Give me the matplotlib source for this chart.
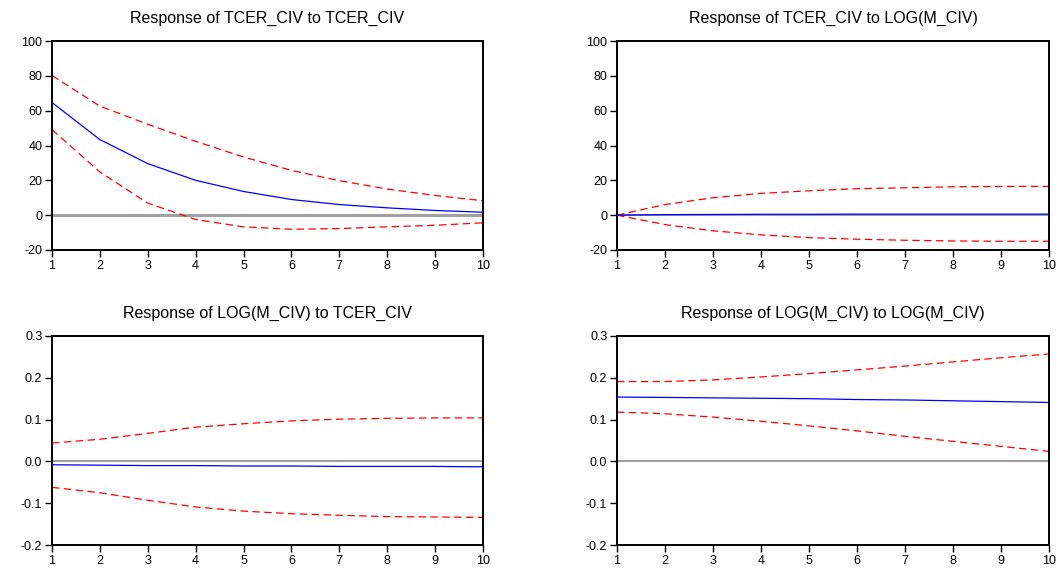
import matplotlib
matplotlib.use("Agg")
import matplotlib.pyplot as plt

periods = [1, 2, 3, 4, 5, 6, 7, 8, 9, 10]

titles = [
    "Response of TCER_CIV to TCER_CIV",
    "Response of TCER_CIV to LOG(M_CIV)",
    "Response of LOG(M_CIV) to TCER_CIV",
    "Response of LOG(M_CIV) to LOG(M_CIV)",
]

# Panel 1: TCER_CIV to TCER_CIV
resp_11 = [64.7, 43.4, 29.6, 20.0, 13.6, 9.0, 6.1, 4.2, 2.7, 1.7]
upper_11 = [80.2, 62.6, 52.2, 42.4, 33.4, 25.7, 19.8, 15.0, 11.3, 8.3]
lower_11 = [49.1, 24.8, 6.9, -2.5, -6.7, -8.1, -7.7, -6.7, -5.8, -4.4]

# Panel 2: TCER_CIV to LOG(M_CIV)
resp_12 = [0.0, 0.3, 0.4, 0.5, 0.5, 0.6, 0.6, 0.6, 0.6, 0.6]
upper_12 = [0.0, 6.1, 10.0, 12.5, 14.0, 15.2, 15.7, 16.3, 16.5, 16.5]
lower_12 = [0.0, -5.4, -9.0, -11.3, -12.9, -13.8, -14.4, -14.8, -15.0, -15.0]

# Panel 3: LOG(M_CIV) to TCER_CIV
resp_21 = [-0.008, -0.009, -0.010, -0.010, -0.011, -0.011, -0.012, -0.012, -0.012, -0.013]
upper_21 = [0.044, 0.053, 0.067, 0.082, 0.090, 0.097, 0.101, 0.103, 0.104, 0.104]
lower_21 = [-0.062, -0.075, -0.093, -0.109, -0.119, -0.125, -0.129, -0.132, -0.133, -0.134]

# Panel 4: LOG(M_CIV) to LOG(M_CIV)
resp_22 = [0.154, 0.153, 0.152, 0.151, 0.150, 0.148, 0.147, 0.145, 0.143, 0.141]
upper_22 = [0.191, 0.191, 0.195, 0.202, 0.210, 0.219, 0.228, 0.238, 0.248, 0.257]
lower_22 = [0.118, 0.114, 0.106, 0.096, 0.085, 0.073, 0.060, 0.048, 0.036, 0.024]

yticks_top = [-20, 0, 20, 40, 60, 80, 100]
yticklabels_top = ["-20", "0", "20", "40", "60", "80", "100"]
yticks_bot = [-0.2, -0.1, 0.0, 0.1, 0.2, 0.3]
yticklabels_bot = ["-0.2", "-0.1", "0.0", "0.1", "0.2", "0.3"]

plt.rcParams['font.family'] = ['Liberation Sans', 'DejaVu Sans']

fig = plt.figure(figsize=(10.64, 5.68), dpi=100)

W, H = 1064, 568
boxes = [
    (52, 41, 483, 250),
    (617, 41, 1049, 250),
    (52, 336, 483, 545),
    (617, 336, 1049, 545),
]
panels = [
    (resp_11, upper_11, lower_11, yticks_top, yticklabels_top, (-20, 100)),
    (resp_12, upper_12, lower_12, yticks_top, yticklabels_top, (-20, 100)),
    (resp_21, upper_21, lower_21, yticks_bot, yticklabels_bot, (-0.2, 0.3)),
    (resp_22, upper_22, lower_22, yticks_bot, yticklabels_bot, (-0.2, 0.3)),
]
zero_styles = [
    ("#a0a0a0", 2.2),
    ("#808080", 1.1),
    ("#808080", 1.1),
    ("#808080", 1.1),
]

for (l, t, r, b), title, (resp, up, lo, yt, ytl, ylim), (zc, zw) in zip(boxes, titles, panels, zero_styles):
    ax = fig.add_axes([l / W, 1 - b / H, (r - l) / W, (b - t) / H])
    ax.axhline(0, color=zc, lw=zw, zorder=1)
    ax.plot(periods, up, color="#ff0000", lw=0.9, dashes=(6, 3.5), zorder=2)
    ax.plot(periods, lo, color="#ff0000", lw=0.9, dashes=(6, 3.5), zorder=2)
    ax.plot(periods, resp, color="#0000ff", lw=0.9, zorder=3)
    ax.set_xlim(1, 10)
    ax.set_ylim(*ylim)
    ax.set_xticks(periods)
    ax.set_xticklabels([str(p) for p in periods])
    ax.set_yticks(yt)
    ax.set_yticklabels(ytl)
    ax.tick_params(direction="out", length=5, width=1, labelsize=9, pad=2)
    for s in ax.spines.values():
        s.set_linewidth(1.4)
        s.set_color("black")
    ax.set_title(title, fontsize=11.5, pad=13)

fig.savefig("out.png", dpi=100)
